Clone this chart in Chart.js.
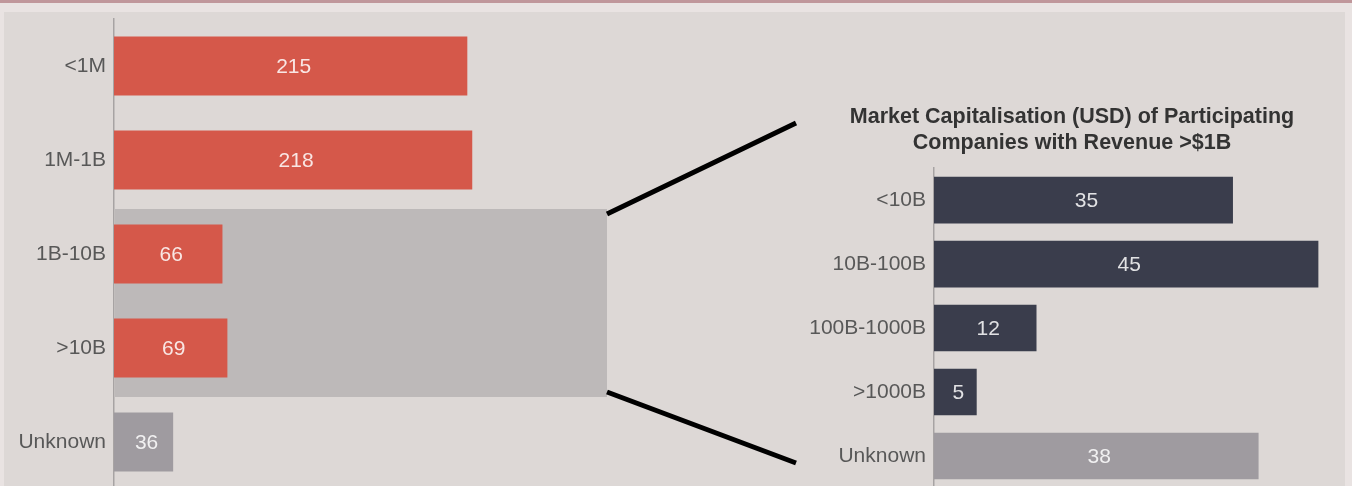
<!DOCTYPE html>
<html lang="en">
<head>
    <meta charset="UTF-8">
    <title>Market Capitalisation</title>
    <script src="https://cdn.jsdelivr.net/npm/chart.js"></script>
    <style>
        body {
            margin: 0;
            width: 1352px;
            height: 486px;
            overflow: hidden;
            background: #e9e3e2;
            font-family: "Liberation Sans", Arial, sans-serif;
        }
        .topline {
            position: absolute; left: 0; top: 0; width: 1352px; height: 3px;
            background: #c0979b;
        }
        .panel {
            position: absolute; left: 4px; top: 12px; width: 1341px; height: 480px;
            background: #ddd8d6;
        }
        .box { position: absolute; top: 12px; height: 480px; }
        #leftBox { left: 4px; width: 796px; }
        #rightBox { left: 800px; width: 552px; }
    </style>
</head>
<body>
    <div class="topline"></div>
    <div class="panel"></div>
    <div class="box" id="leftBox"><canvas id="leftChart"></canvas></div>
    <div class="box" id="rightBox"><canvas id="rightChart"></canvas></div>

    <script>
        // data
        const revenueLabels = ['<1M', '1M-1B', '1B-10B', '>10B', 'Unknown'];
        const revenueCounts = [215, 218, 66, 69, 36];
        const capLabels = ['<10B', '10B-100B', '100B-1000B', '>1000B', 'Unknown'];
        const capCounts = [35, 45, 12, 5, 38];
        const capTitle = ['Market Capitalisation (USD) of Participating', 'Companies with Revenue >$1B'];

        const RED = '#d5584a';
        const NAVY = '#3a3d4c';
        const GREY = '#9f9ba0';
        const FONT = '"Liberation Sans", Arial, sans-serif';

        // value text inside bars
        const valueLabels = {
            id: 'valueLabels',
            afterDatasetsDraw(chart) {
                const ctx = chart.ctx;
                const meta = chart.getDatasetMeta(0);
                const values = chart.data.datasets[0].data;
                ctx.save();
                ctx.font = '21px ' + FONT;
                ctx.fillStyle = 'rgba(255,255,255,0.85)';
                ctx.textAlign = 'center';
                ctx.textBaseline = 'middle';
                meta.data.forEach((bar, i) => {
                    ctx.fillText(values[i], (bar.base + bar.x) / 2 + 3, bar.y + 1);
                });
                ctx.restore();
            }
        };

        // grey band behind the >$1B rows + connector lines
        const zoomBand = {
            id: 'zoomBand',
            beforeDatasetsDraw(chart) {
                const { ctx, chartArea } = chart;
                const y = chart.scales.y;
                const top = (y.getPixelForValue(1) + y.getPixelForValue(2)) / 2 + 2;
                const bottom = (y.getPixelForValue(3) + y.getPixelForValue(4)) / 2 + 2;
                ctx.save();
                ctx.fillStyle = '#bdb9b9';
                ctx.fillRect(chartArea.left + 1, top, chartArea.right - chartArea.left - 1, bottom - top);
                ctx.restore();
                chart.$band = { top, bottom };
            },
            afterDraw(chart) {
                const { ctx, chartArea, width } = chart;
                const b = chart.$band;
                ctx.save();
                ctx.strokeStyle = '#000';
                ctx.lineWidth = 5;
                ctx.beginPath();
                ctx.moveTo(chartArea.right, b.top + 5);
                ctx.lineTo(width - 4, 111);
                ctx.moveTo(chartArea.right, b.bottom - 5);
                ctx.lineTo(width - 4, 451);
                ctx.stroke();
                ctx.restore();
            }
        };

        function yAxis(w) {
            return {
                afterFit(s) {
                    s.width = w;
                    s.paddingTop = 0;
                    s.paddingBottom = 0;
                },
                grid: { display: false, drawTicks: false },
                border: { display: true, color: '#a7a3a3', width: 1.5 },
                ticks: { color: '#585858', font: { size: 21, family: FONT }, padding: 8 }
            };
        }

        new Chart(document.getElementById('leftChart'), {
            type: 'bar',
            data: {
                labels: revenueLabels,
                datasets: [{
                    data: revenueCounts,
                    backgroundColor: revenueLabels.map(l => l === 'Unknown' ? GREY : RED),
                    categoryPercentage: 1,
                    barPercentage: 0.63
                }]
            },
            options: {
                indexAxis: 'y',
                responsive: true,
                maintainAspectRatio: false,
                animation: false,
                layout: { padding: { top: 7, bottom: 3, left: 0, right: 193 } },
                plugins: { legend: { display: false }, tooltip: { enabled: false } },
                scales: {
                    x: { display: false, min: 0, max: 300 },
                    y: yAxis(110)
                }
            },
            plugins: [zoomBand, valueLabels]
        });

        new Chart(document.getElementById('rightChart'), {
            type: 'bar',
            data: {
                labels: capLabels,
                datasets: [{
                    data: capCounts,
                    backgroundColor: capLabels.map(l => l === 'Unknown' ? GREY : NAVY),
                    categoryPercentage: 1,
                    barPercentage: 0.73
                }]
            },
            options: {
                indexAxis: 'y',
                responsive: true,
                maintainAspectRatio: false,
                animation: false,
                layout: { padding: { top: 0, bottom: 4, left: 0, right: 8 } },
                plugins: {
                    legend: { display: false },
                    tooltip: { enabled: false },
                    title: {
                        display: true,
                        text: capTitle,
                        color: '#333',
                        font: { size: 21.5, weight: 'bold', family: FONT, lineHeight: 1.21 },
                        padding: { top: 92, bottom: 12 }
                    }
                },
                scales: {
                    x: { display: false, min: 0, max: 48 },
                    y: yAxis(134)
                }
            },
            plugins: [valueLabels]
        });
    </script>
</body>
</html>
